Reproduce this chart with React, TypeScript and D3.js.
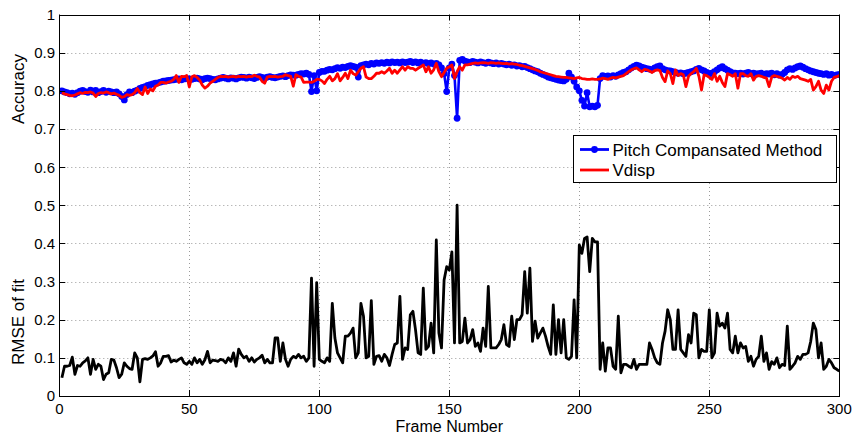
import React, { useEffect, useRef } from 'react';
import * as d3 from 'd3';

// ---------------- DATA ----------------
const xTicks = [0, 50, 100, 150, 200, 250, 300];
const yTicks = [0, 0.1, 0.2, 0.3, 0.4, 0.5, 0.6, 0.7, 0.8, 0.9, 1];
const yTickLabels = ['0', '0.1', '0.2', '0.3', '0.4', '0.5', '0.6', '0.7', '0.8', '0.9', '1'];
const seriesNames = ['Pitch Compansated Method', 'Vdisp'];
const xLabel = 'Frame Number';
const yLabelTop = 'Accuracy';
const yLabelBottom = 'RMSE of fit';

// Accuracy of pitch compensated method, frames 1..300
const accPitch = [
  0.800, 0.797, 0.795, 0.792, 0.794, 0.791, 0.795, 0.799, 0.801, 0.798,
  0.796, 0.802, 0.797, 0.801, 0.795, 0.798, 0.801, 0.796, 0.799, 0.797,
  0.795, 0.797, 0.792, 0.785, 0.776, 0.790, 0.797, 0.795, 0.799, 0.802,
  0.806, 0.809, 0.811, 0.814, 0.816, 0.818, 0.820, 0.821, 0.823, 0.825,
  0.826, 0.827, 0.828, 0.829, 0.830, 0.831, 0.829, 0.831, 0.832, 0.831,
  0.830, 0.832, 0.833, 0.831, 0.829, 0.832, 0.833, 0.832, 0.830, 0.829,
  0.831, 0.833, 0.835, 0.833, 0.831, 0.834, 0.833, 0.831, 0.834, 0.836,
  0.835, 0.833, 0.836, 0.834, 0.832, 0.835, 0.837, 0.835, 0.833, 0.836,
  0.837, 0.835, 0.834, 0.836, 0.838, 0.839, 0.837, 0.840, 0.842, 0.841,
  0.841, 0.843, 0.845, 0.844, 0.846, 0.843, 0.798, 0.840, 0.800, 0.848,
  0.851, 0.851, 0.854, 0.856, 0.855, 0.858, 0.861, 0.859, 0.862, 0.861,
  0.864, 0.866, 0.864, 0.862, 0.836, 0.866, 0.868, 0.870, 0.868, 0.872,
  0.870, 0.873, 0.872, 0.874, 0.872, 0.875, 0.873, 0.876, 0.874, 0.875,
  0.873, 0.876, 0.874, 0.875, 0.877, 0.874, 0.876, 0.873, 0.875, 0.872,
  0.874, 0.871, 0.873, 0.870, 0.872, 0.868, 0.860, 0.845, 0.798, 0.860,
  0.870, 0.840, 0.728, 0.880, 0.882, 0.878, 0.876, 0.874, 0.877, 0.875,
  0.873, 0.876, 0.874, 0.872, 0.875, 0.873, 0.871, 0.873, 0.870, 0.872,
  0.870, 0.868, 0.870, 0.867, 0.868, 0.865, 0.866, 0.863, 0.864, 0.861,
  0.858, 0.855, 0.852, 0.850, 0.846, 0.843, 0.840, 0.836, 0.834, 0.832,
  0.830, 0.828, 0.827, 0.826, 0.830, 0.846, 0.836, 0.825, 0.810, 0.800,
  0.775, 0.760, 0.795, 0.758, 0.760, 0.758, 0.762, 0.832, 0.840, 0.838,
  0.839, 0.836, 0.840, 0.838, 0.842, 0.845, 0.848, 0.850, 0.855, 0.860,
  0.864, 0.867, 0.865, 0.862, 0.860, 0.858, 0.857, 0.855, 0.860, 0.863,
  0.865, 0.858, 0.855, 0.853, 0.852, 0.850, 0.848, 0.846, 0.847, 0.845,
  0.846, 0.848, 0.850, 0.852, 0.856, 0.859, 0.855, 0.852, 0.848, 0.845,
  0.846, 0.850, 0.855, 0.860, 0.863, 0.858, 0.854, 0.850, 0.847, 0.846,
  0.845, 0.846, 0.844, 0.846, 0.848, 0.845, 0.846, 0.844, 0.845, 0.846,
  0.843, 0.845, 0.844, 0.846, 0.842, 0.845, 0.841, 0.843, 0.848, 0.855,
  0.858, 0.856, 0.860, 0.863, 0.865, 0.862, 0.858, 0.855, 0.852, 0.850,
  0.848, 0.846, 0.845, 0.843, 0.845, 0.841, 0.843, 0.840, 0.842, 0.843,
];

// Accuracy of Vdisp, frames 1..300
const accVdisp = [
  0.795, 0.792, 0.790, 0.788, 0.787, 0.789, 0.792, 0.795, 0.793, 0.796,
  0.795, 0.797, 0.794, 0.785, 0.793, 0.795, 0.794, 0.797, 0.795, 0.792,
  0.794, 0.791, 0.788, 0.783, 0.785, 0.790, 0.788, 0.790, 0.795, 0.806,
  0.795, 0.790, 0.810, 0.793, 0.805, 0.800, 0.812, 0.815, 0.822, 0.822,
  0.820, 0.823, 0.825, 0.830, 0.840, 0.822, 0.838, 0.837, 0.840, 0.810,
  0.837, 0.840, 0.835, 0.828, 0.815, 0.807, 0.812, 0.820, 0.825, 0.830,
  0.835, 0.838, 0.837, 0.838, 0.836, 0.837, 0.838, 0.836, 0.838, 0.837,
  0.838, 0.836, 0.838, 0.837, 0.841, 0.838, 0.836, 0.825, 0.820, 0.836,
  0.838, 0.837, 0.838, 0.836, 0.837, 0.838, 0.842, 0.840, 0.838, 0.812,
  0.842, 0.838, 0.836, 0.822, 0.823, 0.823, 0.822, 0.825, 0.830, 0.830,
  0.826, 0.819, 0.830, 0.838, 0.826, 0.832, 0.845, 0.826, 0.835, 0.846,
  0.832, 0.854, 0.845, 0.841, 0.850, 0.859, 0.863, 0.836, 0.832, 0.832,
  0.838, 0.846, 0.846, 0.850, 0.846, 0.852, 0.859, 0.846, 0.854, 0.846,
  0.855, 0.863, 0.854, 0.863, 0.859, 0.859, 0.854, 0.859, 0.863, 0.868,
  0.850, 0.863, 0.846, 0.855, 0.872, 0.850, 0.837, 0.848, 0.859, 0.863,
  0.868, 0.832, 0.850, 0.863, 0.854, 0.868, 0.868, 0.870, 0.872, 0.873,
  0.872, 0.873, 0.874, 0.873, 0.872, 0.874, 0.873, 0.872, 0.873, 0.872,
  0.871, 0.872, 0.870, 0.871, 0.870, 0.869, 0.867, 0.866, 0.864, 0.862,
  0.860, 0.858, 0.856, 0.853, 0.850, 0.848, 0.846, 0.844, 0.842, 0.840,
  0.838, 0.837, 0.836, 0.835, 0.835, 0.834, 0.833, 0.832, 0.834, 0.835,
  0.832, 0.831, 0.830, 0.830, 0.831, 0.830, 0.830, 0.831, 0.833, 0.832,
  0.830, 0.833, 0.835, 0.834, 0.836, 0.838, 0.840, 0.845, 0.850, 0.855,
  0.858, 0.860, 0.855, 0.850, 0.856, 0.855, 0.852, 0.848, 0.853, 0.855,
  0.853, 0.835, 0.824, 0.852, 0.845, 0.819, 0.855, 0.840, 0.845, 0.842,
  0.811, 0.838, 0.845, 0.850, 0.859, 0.838, 0.802, 0.842, 0.840, 0.835,
  0.830, 0.845, 0.825, 0.838, 0.822, 0.811, 0.845, 0.842, 0.838, 0.845,
  0.807, 0.845, 0.845, 0.840, 0.838, 0.845, 0.828, 0.838, 0.840, 0.838,
  0.835, 0.833, 0.811, 0.836, 0.840, 0.838, 0.836, 0.833, 0.828, 0.835,
  0.830, 0.838, 0.835, 0.838, 0.832, 0.830, 0.828, 0.825, 0.830, 0.802,
  0.811, 0.825, 0.802, 0.793, 0.815, 0.802, 0.825, 0.835, 0.837, 0.840,
];

// RMSE of fit, frames 1..300
const rmse = [
  0.048, 0.078, 0.078, 0.080, 0.102, 0.057, 0.080, 0.078, 0.087, 0.092,
  0.100, 0.057, 0.096, 0.070, 0.083, 0.078, 0.043, 0.057, 0.061, 0.096,
  0.094, 0.074, 0.048, 0.057, 0.087, 0.078, 0.072, 0.070, 0.113, 0.100,
  0.037, 0.096, 0.098, 0.096, 0.100, 0.105, 0.116, 0.078, 0.087, 0.104,
  0.104, 0.106, 0.089, 0.094, 0.091, 0.096, 0.100, 0.087, 0.083, 0.091,
  0.083, 0.100, 0.087, 0.096, 0.083, 0.095, 0.117, 0.087, 0.094, 0.093,
  0.091, 0.096, 0.094, 0.087, 0.100, 0.091, 0.113, 0.078, 0.123, 0.109,
  0.100, 0.104, 0.091, 0.100, 0.089, 0.096, 0.100, 0.107, 0.087, 0.096,
  0.087, 0.087, 0.152, 0.152, 0.091, 0.139, 0.096, 0.078, 0.096, 0.104,
  0.100, 0.109, 0.100, 0.104, 0.091, 0.100, 0.309, 0.078, 0.297, 0.096,
  0.091, 0.087, 0.100, 0.091, 0.243, 0.152, 0.113, 0.100, 0.087, 0.157,
  0.157, 0.165, 0.178, 0.100, 0.113, 0.243, 0.209, 0.100, 0.104, 0.250,
  0.083, 0.104, 0.106, 0.091, 0.109, 0.100, 0.080, 0.109, 0.135, 0.139,
  0.261, 0.096, 0.126, 0.122, 0.213, 0.222, 0.174, 0.113, 0.109, 0.283,
  0.122, 0.130, 0.191, 0.113, 0.409, 0.165, 0.126, 0.304, 0.339, 0.330,
  0.378, 0.139, 0.500, 0.139, 0.143, 0.204, 0.139, 0.148, 0.174, 0.130,
  0.139, 0.117, 0.178, 0.130, 0.287, 0.126, 0.126, 0.126, 0.135, 0.148,
  0.187, 0.135, 0.130, 0.209, 0.148, 0.200, 0.200, 0.213, 0.326, 0.217,
  0.335, 0.143, 0.196, 0.152, 0.165, 0.178, 0.157, 0.130, 0.109, 0.239,
  0.109, 0.200, 0.113, 0.200, 0.100, 0.096, 0.104, 0.252, 0.100, 0.396,
  0.374, 0.413, 0.417, 0.326, 0.413, 0.404, 0.404, 0.070, 0.139, 0.065,
  0.126, 0.126, 0.078, 0.070, 0.209, 0.061, 0.083, 0.083, 0.078, 0.074,
  0.096, 0.070, 0.083, 0.083, 0.083, 0.083, 0.139, 0.122, 0.100, 0.087,
  0.083, 0.139, 0.170, 0.226, 0.200, 0.122, 0.122, 0.226, 0.122, 0.113,
  0.104, 0.161, 0.139, 0.217, 0.213, 0.100, 0.122, 0.117, 0.117, 0.226,
  0.100, 0.113, 0.217, 0.183, 0.191, 0.178, 0.217, 0.122, 0.113, 0.157,
  0.113, 0.139, 0.126, 0.130, 0.091, 0.104, 0.078, 0.096, 0.104, 0.157,
  0.091, 0.113, 0.070, 0.090, 0.083, 0.100, 0.074, 0.083, 0.080, 0.183,
  0.070, 0.078, 0.087, 0.104, 0.096, 0.109, 0.109, 0.113, 0.143, 0.191,
  0.174, 0.100, 0.139, 0.070, 0.078, 0.096, 0.087, 0.074, 0.070, 0.065,
];

// ---------------- CHART ----------------
const W = 853;
const H = 436;
const FONT = '"Liberation Sans", Arial, Helvetica, sans-serif';

export default function App() {
  const ref = useRef<SVGSVGElement>(null);

  useEffect(() => {
    const svg = d3.select(ref.current);
    svg.selectAll('*').remove();

    const x = d3.scaleLinear().domain([0, 300]).range([59.3, 839.3]);
    const y = d3.scaleLinear().domain([0, 1]).range([396, 14.5]);
    const [x0, x1] = x.range();
    const [y0, y1] = y.range();

    svg.append('rect').attr('width', W).attr('height', H).attr('fill', '#fff');

    svg.append('defs').append('clipPath').attr('id', 'plotclip')
      .append('rect').attr('x', x0).attr('y', y1).attr('width', x1 - x0).attr('height', y0 - y1);

    // grid
    const grid = svg.append('g').attr('stroke', '#9a9a9a').attr('stroke-width', 1)
      .attr('stroke-dasharray', '1,3');
    xTicks.slice(1, -1).forEach((t) => {
      grid.append('line').attr('x1', Math.round(x(t)) + 0.5).attr('x2', Math.round(x(t)) + 0.5)
        .attr('y1', y0).attr('y2', y1);
    });
    yTicks.slice(1, -1).forEach((t) => {
      grid.append('line').attr('y1', Math.round(y(t)) + 0.5).attr('y2', Math.round(y(t)) + 0.5)
        .attr('x1', x0).attr('x2', x1);
    });

    const frames = accPitch.map((_, i) => i + 1);
    const plot = svg.append('g').attr('clip-path', 'url(#plotclip)');

    const line = d3.line<number>().x((_, i) => x(frames[i])).y((d) => y(d));

    // blue series with markers
    plot.append('path').datum(accPitch).attr('d', line).attr('fill', 'none')
      .attr('stroke', '#0000ff').attr('stroke-width', 2.6).attr('stroke-linejoin', 'round');
    plot.append('g').selectAll('circle').data(accPitch).join('circle')
      .attr('cx', (_, i) => x(frames[i])).attr('cy', (d) => y(d)).attr('r', 3.4)
      .attr('fill', '#0000ff');

    // red series
    plot.append('path').datum(accVdisp).attr('d', line).attr('fill', 'none')
      .attr('stroke', '#ff0000').attr('stroke-width', 2.8).attr('stroke-linejoin', 'round');

    // black rmse
    plot.append('path').datum(rmse).attr('d', line).attr('fill', 'none')
      .attr('stroke', '#000').attr('stroke-width', 2.8).attr('stroke-linejoin', 'round');

    // axes box and ticks
    const ax = svg.append('g').attr('stroke', '#000').attr('stroke-width', 1).attr('fill', 'none');
    ax.append('rect').attr('x', Math.round(x0) + 0.5).attr('y', Math.round(y1) + 0.5)
      .attr('width', Math.round(x1) - Math.round(x0)).attr('height', Math.round(y0) - Math.round(y1));
    const tl = 6;
    xTicks.forEach((t) => {
      const px = Math.round(x(t)) + 0.5;
      ax.append('line').attr('x1', px).attr('x2', px).attr('y1', y0).attr('y2', y0 - tl);
      ax.append('line').attr('x1', px).attr('x2', px).attr('y1', y1).attr('y2', y1 + tl);
    });
    yTicks.forEach((t) => {
      const py = Math.round(y(t)) + 0.5;
      ax.append('line').attr('y1', py).attr('y2', py).attr('x1', x0).attr('x2', x0 + tl);
      ax.append('line').attr('y1', py).attr('y2', py).attr('x1', x1).attr('x2', x1 - tl);
    });

    const txt = svg.append('g').attr('font-family', FONT).attr('fill', '#000');
    xTicks.forEach((t) => {
      txt.append('text').attr('x', x(t)).attr('y', 414).attr('text-anchor', 'middle')
        .attr('font-size', 15).text(String(t));
    });
    yTicks.forEach((t, i) => {
      txt.append('text').attr('x', 55).attr('y', y(t)).attr('dy', '0.36em')
        .attr('text-anchor', 'end').attr('font-size', 15).text(yTickLabels[i]);
    });
    txt.append('text').attr('x', (x0 + x1) / 2).attr('y', 432).attr('text-anchor', 'middle')
      .attr('font-size', 16).text(xLabel);
    txt.append('text').attr('transform', 'translate(24,89) rotate(-90)').attr('text-anchor', 'middle')
      .attr('font-size', 17).text(yLabelTop);
    txt.append('text').attr('transform', 'translate(24,322) rotate(-90)').attr('text-anchor', 'middle')
      .attr('font-size', 17).text(yLabelBottom);

    // legend
    const lg = svg.append('g');
    lg.append('rect').attr('x', 573.5).attr('y', 135.5).attr('width', 263).attr('height', 47)
      .attr('fill', '#fff').attr('stroke', '#000').attr('stroke-width', 1);
    const rows = [149.5, 170];
    const colors = ['#0000ff', '#ff0000'];
    rows.forEach((ry, i) => {
      lg.append('line').attr('x1', 580).attr('x2', 609).attr('y1', ry).attr('y2', ry)
        .attr('stroke', colors[i]).attr('stroke-width', 2.8);
      if (i === 0) lg.append('circle').attr('cx', 594.5).attr('cy', ry).attr('r', 3.4).attr('fill', colors[i]);
      lg.append('text').attr('x', 612.5).attr('y', ry).attr('dy', '0.36em')
        .attr('font-family', FONT).attr('font-size', 17).text(seriesNames[i]);
    });
  }, []);

  return (
    <svg ref={ref} width={W} height={H}
      style={{ position: 'absolute', left: 0, top: 0, display: 'block' }} />
  );
}
